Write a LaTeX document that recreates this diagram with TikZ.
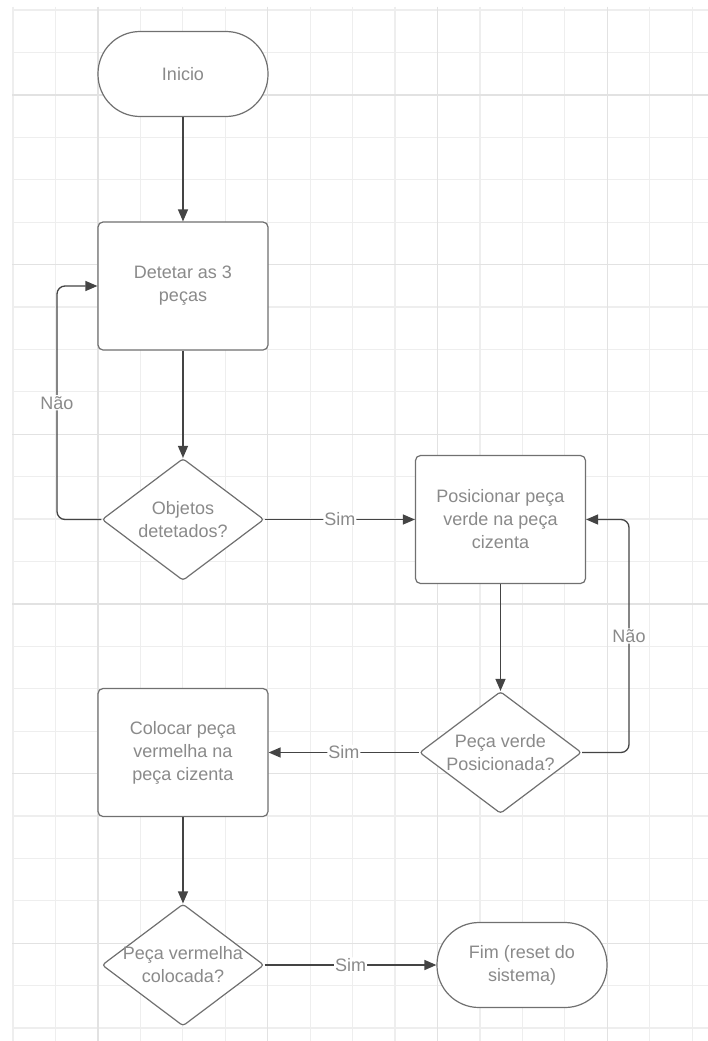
\documentclass[tikz,border=0pt]{standalone}
\usepackage{fontspec}
\setmainfont{Liberation Sans}
\usetikzlibrary{arrows.meta,shapes.geometric}
\definecolor{gridminor}{HTML}{EEEEEE}
\definecolor{gridmajor}{HTML}{E2E2E2}
\definecolor{txtgray}{HTML}{8A8A8A}
\definecolor{shapegray}{HTML}{707070}
\definecolor{linegray}{HTML}{444444}
\newcommand{\zw}[1]{\makebox[0pt]{#1}}

\begin{document}
\begin{tikzpicture}[x=1pt,y=-1pt,>={Triangle[length=12pt,width=10pt]},
  font=\fontsize{18}{23}\selectfont,
  term node/.style={rectangle,rounded corners=42pt,draw=shapegray,line width=1.2pt,fill=white,text=txtgray,align=center,minimum width=170pt,minimum height=85pt,inner sep=0pt},
  proc node/.style={rectangle,rounded corners=5pt,draw=shapegray,line width=1.2pt,fill=white,text=txtgray,align=center,minimum width=170pt,minimum height=128pt,inner sep=0pt},
  dec node/.style={diamond,rounded corners=3pt,draw=shapegray,line width=1.2pt,fill=white,text=txtgray,align=center,minimum width=162pt,minimum height=122pt,inner sep=0pt},
  flow/.style={->,draw=linegray,line width=1.3pt,rounded corners=8pt},
  lbl/.style={fill=white,text=txtgray,inner sep=1pt}]

  \useasboundingbox (0,0) rectangle (708,1041);
  \fill[white] (0,0) rectangle (708,1041);

  % grid
  \foreach \i in {0,...,16}
    \draw[gridminor,line width=1.2pt] ({13+42.45*\i},7) -- ({13+42.45*\i},1041);
  \foreach \j in {0,...,24}
    \draw[gridminor,line width=1.2pt] (12,{10+42.42*\j}) -- (708,{10+42.42*\j});
  \foreach \i in {2,6,10,14}
    \draw[gridmajor,line width=1.4pt] ({13+42.45*\i},7) -- ({13+42.45*\i},1041);
  \foreach \j in {2,6,10,14,18,22}
    \draw[gridmajor,line width=1.4pt] (12,{10+42.42*\j}) -- (708,{10+42.42*\j});

  \node[term node] (ini) at (183,74) {Inicio};
  \node[proc node] (det) at (183,286) {Detetar as 3\\peças};
  \node[dec node] (obj) at (183,519.5) {\zw{Objetos}\\\zw{detetados?}};
  \node[proc node] (verde) at (500.5,519.5) {Posicionar peça\\verde na peça\\cizenta};
  \node[dec node] (okverde) at (500.5,752.5) {\zw{Peça verde}\\\zw{Posicionada?}};
  \node[proc node] (verm) at (183,752.5) {Colocar peça\\vermelha na\\peça cizenta};
  \node[dec node] (okverm) at (183,965) {\zw{Peça vermelha}\\\zw{colocada?}};
  \node[term node] (fim) at (522,965) {Fim (reset do\\sistema)};

  \coordinate (nao1) at (57,286);
  \coordinate (nao2) at (629,519.5);

  \draw[flow] (ini) -- (det);
  \draw[flow] (det) -- (obj);
  \draw[flow] (obj.west) -| (nao1) node[lbl,pos=0.75] {Não} -- (det.west);
  \draw[flow] (obj) -- node[lbl] {Sim} (verde);
  \draw[flow] (verde) -- (okverde);
  \draw[flow] (okverde.east) -| (nao2) node[lbl,pos=0.75] {Não} -- (verde.east);
  \draw[flow] (okverde) -- node[lbl] {Sim} (verm);
  \draw[flow] (verm) -- (okverm);
  \draw[flow] (okverm) -- node[lbl] {Sim} (fim);
\end{tikzpicture}
\end{document}
